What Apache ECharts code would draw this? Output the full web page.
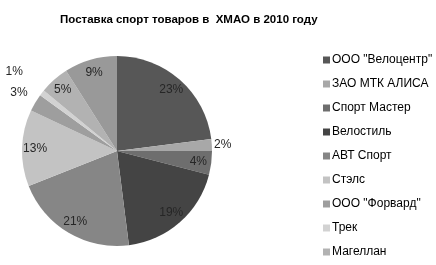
<!DOCTYPE html>
<html>
<head>
<meta charset="utf-8">
<script src="https://cdn.jsdelivr.net/npm/echarts@6/dist/echarts.min.js"></script>
<style>html,body{margin:0;padding:0;background:#fff;}#c{width:436px;height:265px;}</style>
</head>
<body>
<div id="c"></div>
<script>
const titleText = 'Поставка спорт товаров в  ХМАО в 2010 году';
const categories = ['ООО "Велоцентр"', 'ЗАО МТК АЛИСА', 'Спорт Мастер', 'Велостиль', 'АВТ Спорт', 'Стэлс', 'ООО "Форвард"', 'Трек', 'Магеллан', 'Прочие'];
const values = [23, 2, 4, 19, 21, 13, 3, 1, 5, 9];
const legendItems = categories.slice(0, 9);
const colors = ['#575757', '#a8a8a8', '#6e6e6e', '#444444', '#868686', '#c3c3c3', '#9e9e9e', '#d2d2d2', '#b2b2b2', '#999999'];

const center = [117, 151];
const R = 95;
const font = 'Liberation Sans, Arial, sans-serif';

function labelRing(radius, showIdx) {
  return {
    type: 'pie', center: center, radius: radius, silent: true,
    startAngle: 90, clockwise: true, avoidLabelOverlap: false,
    itemStyle: { color: 'rgba(0,0,0,0)', borderWidth: 0 },
    emphasis: { disabled: true },
    labelLine: { show: false },
    data: categories.map((n, i) => ({
      name: n, value: values[i],
      label: {
        show: showIdx.indexOf(i) >= 0, position: 'inside',
        formatter: '{d}%', color: '#262626', fontSize: 12, fontFamily: font
      }
    }))
  };
}

const chart = echarts.init(document.getElementById('c'), null, { renderer: 'canvas' });
chart.setOption({
  animation: false,
  backgroundColor: '#ffffff',
  title: {
    text: titleText, left: 55, top: 9,
    textStyle: { fontSize: 11.5, fontWeight: 'bold', color: '#000', fontFamily: font }
  },
  legend: {
    data: legendItems, orient: 'vertical', left: 318, top: 49,
    itemWidth: 7, itemHeight: 7, itemGap: 12, icon: 'rect',
    selectedMode: false,
    textStyle: { fontSize: 12, color: '#000', fontFamily: font, padding: [0, 0, 0, -3] }
  },
  series: [
    {
      type: 'pie', center: center, radius: [0, R], startAngle: 90, clockwise: true,
      silent: true, avoidLabelOverlap: false,
      label: { show: false }, labelLine: { show: false },
      emphasis: { disabled: true },
      itemStyle: { borderWidth: 0 },
      data: categories.map((n, i) => ({ name: n, value: values[i], itemStyle: { color: colors[i] } }))
    },
    labelRing([63, R], [0, 2, 3, 4, 5, 8, 9]),
    labelRing([R, 111], [1]),
    labelRing([R, 127], [6]),
    labelRing([R, 159], [7])
  ]
});
</script>
</body>
</html>
